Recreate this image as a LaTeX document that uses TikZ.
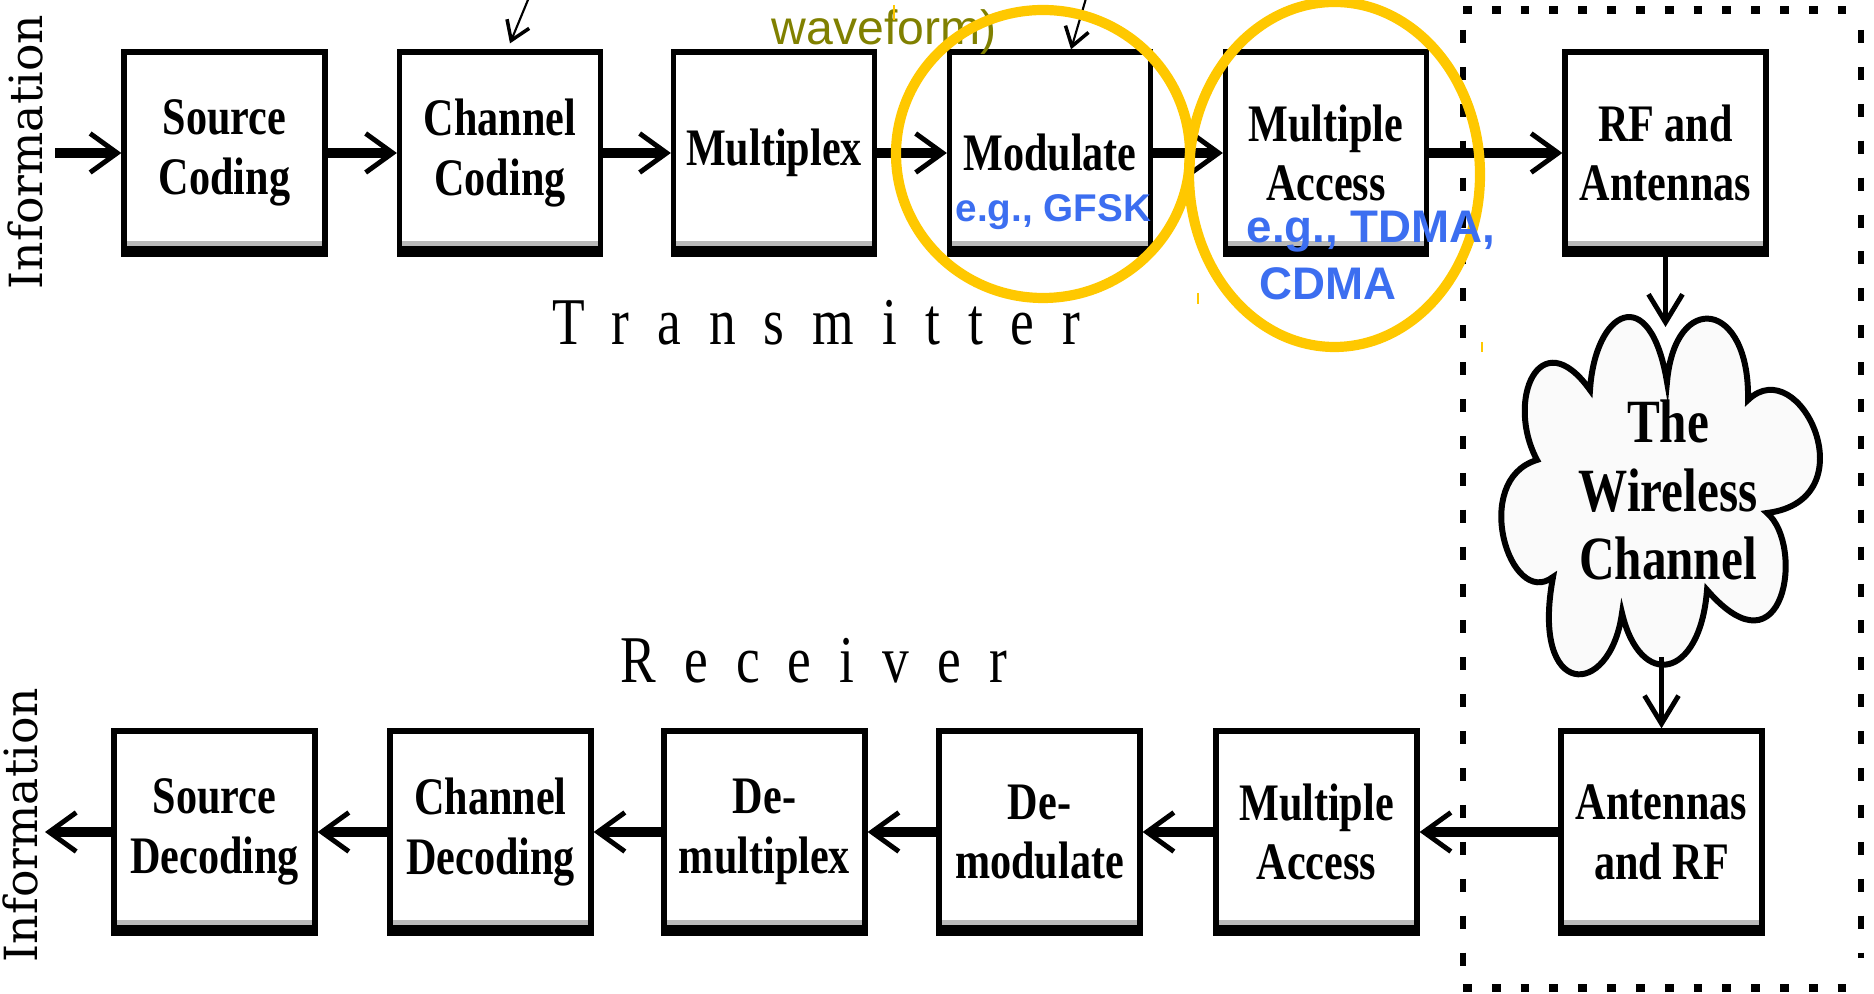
\documentclass[tikz,border=0pt]{standalone}
\usepackage{fontspec}
\usepackage{xcolor}
\usepackage{tikz}
\usetikzlibrary{arrows.meta, positioning, calc}

\newfontfamily\blockfont[FakeStretch=0.8]{Liberation Serif}
\newfontfamily\spacedfont[FakeStretch=0.8, LetterSpace=42]{Liberation Serif}
\newfontfamily\sidefont{DejaVu Serif}
\newfontfamily\notefont{Liberation Sans}

\definecolor{ringyellow}{RGB}{255,200,0}
\definecolor{noteblue}{RGB}{60,110,240}
\definecolor{noteolive}{RGB}{128,128,0}

\begin{document}
\begin{tikzpicture}[
    % Styles
    block/.style={draw, line width=1.5pt, minimum width=2.01cm, minimum height=2.02cm, inner sep=0pt, align=center,
                  font=\blockfont\bfseries\fontsize{15}{17}\selectfont,
                  path picture={
                    \fill[black] (path picture bounding box.south west) rectangle ([yshift=2.4pt]path picture bounding box.south east);
                    \fill[gray!55] ([yshift=2.4pt]path picture bounding box.south west) rectangle ([yshift=3.6pt]path picture bounding box.south east);
                    \fill[black] (path picture bounding box.north west) rectangle ([yshift=-0.9pt]path picture bounding box.north east);}},
    flow/.style={-{Straight Barb[length=2.7mm, width=3.9mm, line width=1.4pt]}, line width=2.8pt},
    drop/.style={-{Straight Barb[length=2.8mm, width=3.4mm, line width=1.4pt]}, line width=1.4pt},
    pointer/.style={-{Straight Barb[length=1.8mm, width=2.4mm, line width=1pt]}, line width=0.6pt},
    ring/.style={draw=ringyellow, line width=2.9pt},
    side/.style={font=\sidefont\fontsize{13}{15}\selectfont, rotate=90, inner sep=0pt},
    stage/.style={font=\spacedfont\fontsize{19}{21}\selectfont, anchor=base west, inner sep=0pt},
    eg/.style={font=\notefont\bfseries\fontsize{#1}{16}\selectfont, text=noteblue, anchor=base west, inner sep=0pt},
    border/.style={line width=1.6pt, dash pattern=on 3.7pt off 6.8pt},
    borderdots/.style={line width=2.4pt, dash pattern=on 2.5pt off 5.7pt}
  ]
    \useasboundingbox (0,0) rectangle (18.74,-9.94);

    % === Side labels ===
    \node[side] (infotx) at (0.255,-1.52) {Information};
    \node[side] (inforx) at (0.20,-8.25) {Information};

    % === Transmitter chain ===
    \node[block] (srccod) at (2.245,-1.53) {Source\\Coding};
    \node[block] (chcod) at (5.00,-1.53) {Channel\\Coding};
    \node[block] (mux) at (7.74,-1.53) {Multiplex};
    \node[block] (mod) at (10.50,-1.53) {Modulate};
    \node[block] (mac) at (13.26,-1.53) {Multiple\\Access};
    \node[block] (rfant) at (16.655,-1.53) {RF and\\Antennas};

    % === Receiver chain ===
    \node[block] (srcdec) at (2.145,-8.32) {Source\\Decoding};
    \node[block] (chdec) at (4.905,-8.32) {Channel\\Decoding};
    \node[block] (demux) at (7.645,-8.32) {De-\\multiplex};
    \node[block] (demod) at (10.395,-8.32) {De-\\modulate};
    \node[block] (macrx) at (13.165,-8.32) {Multiple\\Access};
    \node[block] (antrf) at (16.615,-8.32) {Antennas\\and RF};

    \node[stage] (txlabel) at (5.52,-3.45) {Transmitter};
    \node[stage] (rxlabel) at (6.20,-6.83) {Receiver};

    % === Channel cloud ===
    \draw[line width=1.7pt, fill=gray!4] (16.67,-3.82)
      .. controls (16.75,-2.90) and (17.50,-3.00) .. (17.48,-4.00)
      .. controls (18.00,-3.50) and (18.70,-5.00) .. (17.67,-5.13)
      .. controls (18.05,-5.45) and (17.85,-6.80) .. (17.07,-5.90)
      .. controls (17.00,-6.80) and (16.40,-6.90) .. (16.22,-6.13)
      .. controls (16.10,-7.00) and (15.30,-7.00) .. (15.53,-5.77)
      .. controls (15.10,-6.10) and (14.70,-4.80) .. (15.37,-4.60)
      .. controls (15.05,-4.00) and (15.40,-3.20) .. (15.90,-3.90)
      .. controls (15.95,-3.10) and (16.50,-2.80) .. cycle;
    \node[font=\blockfont\bfseries\fontsize{17.5}{19.4}\selectfont, align=center, inner sep=0pt] (chan) at (16.68,-4.90) {The\\Wireless\\Channel};
    \coordinate (cloudin) at (16.655,-3.27);
    \coordinate (cloudout) at (16.615,-6.57);

    % === Air-interface region ===
    \coordinate (regtl) at (14.63,-0.10);
    \coordinate (regbr) at (18.61,-9.88);
    \draw[borderdots] (regtl) -- (regtl -| regbr);
    \draw[borderdots] (regtl |- regbr) -- (regbr);
    \draw[border] ([yshift=-0.2cm]regtl) -- ([yshift=0.1cm]regtl |- regbr);
    \draw[border] ([yshift=-0.2cm]regtl -| regbr) -- ([yshift=0.3cm]regbr);

    % === Signal flow ===
    \coordinate (infoin) at (0.55,-1.53);
    \coordinate (infoout) at (0.45,-8.32);
    \draw[flow] (infoin) -- (srccod.west);
    \draw[flow] (srccod.east) -- (chcod.west);
    \draw[flow] (chcod.east) -- (mux.west);
    \draw[flow] (mux.east) -- (mod.west);
    \draw[flow] (mod.east) -- (mac.west);
    \draw[flow] (mac.east) -- (rfant.west);
    \draw[drop] (rfant.south) -- (cloudin);
    \draw[drop] (cloudout) -- (antrf.north);
    \draw[flow] (antrf.west) -- (macrx.east);
    \draw[flow] (macrx.west) -- (demod.east);
    \draw[flow] (demod.west) -- (demux.east);
    \draw[flow] (demux.west) -- (chdec.east);
    \draw[flow] (chdec.west) -- (srcdec.east);
    \draw[flow] (srcdec.west) -- (infoout);

    % === Annotations ===
    \coordinate (chnote) at (5.30,0.05);
    \coordinate (modnote) at (10.87,0.05);
    \draw[pointer] (chnote) -- ([xshift=0.1cm, yshift=0.06cm]chcod.north);
    \draw[pointer] (modnote) -- ([xshift=0.21cm]mod.north);
    \node[font=\notefont\fontsize{13.7}{16}\selectfont, text=noteolive, anchor=base west, inner sep=0pt] (wavenote) at (7.71,-0.45) {waveform)};

    \draw[ring] (10.43,-1.54) ellipse [x radius=1.47cm, y radius=1.44cm];
    \draw[ring] (13.345,-1.745) ellipse [x radius=1.455cm, y radius=1.725cm];
    \draw[ringyellow, line width=0.5pt] (8.94,-0.05) -- (8.94,-0.20);
    \draw[ringyellow, line width=0.5pt] (11.98,-2.93) -- (11.98,-3.04);
    \draw[ringyellow, line width=0.5pt] (14.82,-3.42) -- (14.82,-3.52);

    \node[eg=11] (gfsk) at (9.55,-2.22) {e.g., GFSK};
    \node[eg=13] (tdma) at (12.46,-2.43) {e.g., TDMA,};
    \node[eg=13] (cdma) at (12.59,-3.00) {CDMA};

  \end{tikzpicture}
\end{document}
